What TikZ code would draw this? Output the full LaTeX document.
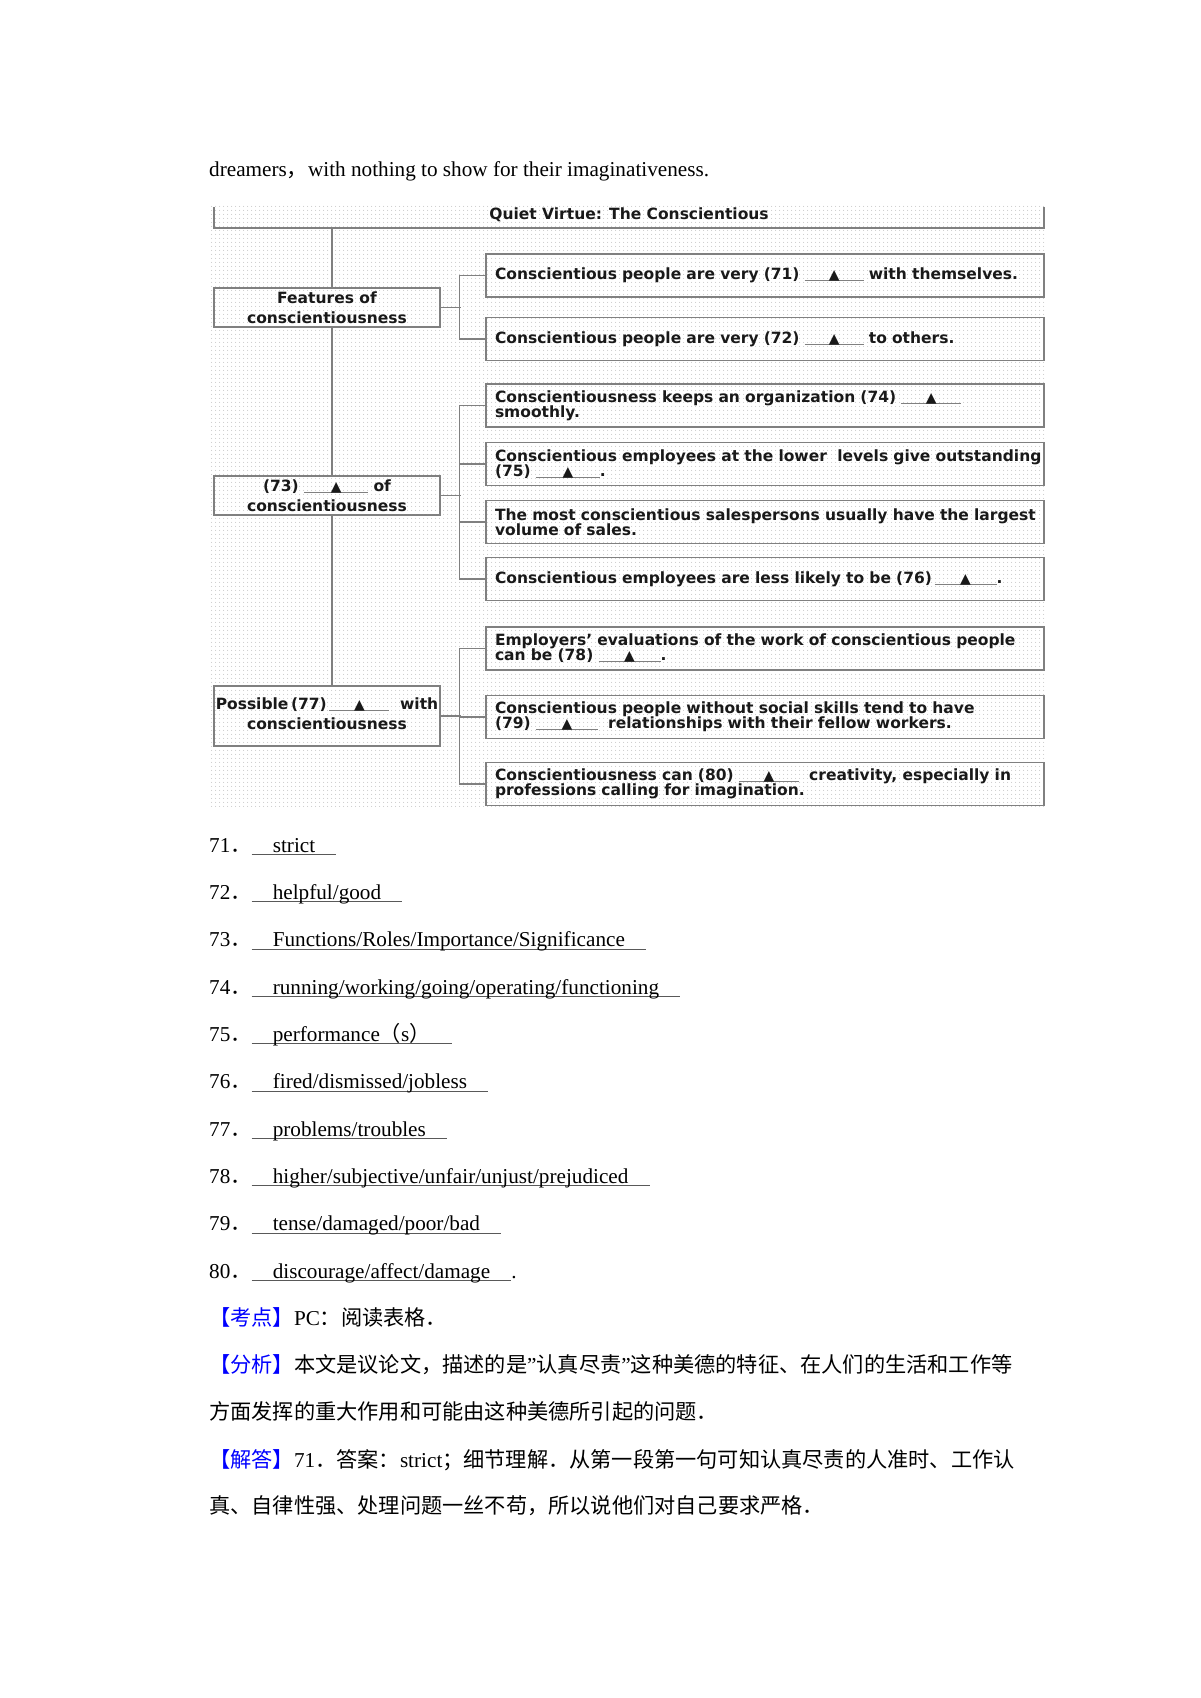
\documentclass[tikz,border=0pt]{standalone}
\usepackage{fontspec}
\usepackage{graphicx}
\setmainfont{Liberation Serif}
\newfontfamily\cjk{Noto Sans CJK SC}
\newfontfamily\dgf{DejaVu Sans}
\usetikzlibrary{patterns.meta}
\newsavebox\ulbox
\newcommand\ul[1]{\sbox\ulbox{\hspace*{1em}#1\hspace*{1em}}\rlap{\textcolor{black!65}{\rule[-3pt]{\wd\ulbox}{0.9pt}}}\usebox\ulbox}
\newcommand\blank[1]{\rlap{\textcolor{black!50}{\rule[-1.5pt]{#1pt}{1.2pt}}}\makebox[#1pt]{\scalebox{0.9}{▲}}}
\newcommand\rl[1]{\mbox{#1}}
\newcommand\dsmall{\dgf\bfseries\fontsize{15.5}{14.8}\selectfont\setlength{\lineskiplimit}{-20pt}}
\newcommand\dwide{\dgf\bfseries\fontsize{15.5}{19.5}\selectfont\setlength{\lineskiplimit}{-20pt}}
\begin{document}
\begin{tikzpicture}[x=1pt,y=-1pt,
  body/.style={anchor=base west, inner sep=0pt, font=\fontsize{21.2}{25}\selectfont},
  dtext/.style={font=\dsmall, text=black!90},
  rbox/.style={dtext, draw=black!50, line width=1.5pt, minimum width=558pt, minimum height=43pt, text width=540pt, inner xsep=9pt, inner ysep=0pt, align=left},
  lbox/.style={dtext, font=\dwide, draw=black!50, line width=1.5pt, minimum width=226pt, minimum height=39pt, inner xsep=2pt, inner ysep=0pt, align=center},
  conn/.style={draw=black!50, line width=1.5pt}]
\useasboundingbox (0,0) rectangle (1200,1698);
\fill[white] (0,0) rectangle (1200,1698);
% dotted background of the diagram
\fill[pattern={Dots[distance=4pt,radius=0.6pt]}, pattern color=black!25] (211,204) rectangle (1046,808);

% title
\node[dtext, minimum width=830pt, minimum height=26pt, inner sep=0pt] (title) at (629,215) {Quiet Virtue: The Conscientious};
\draw[conn] (title.south west) ++(0,-21) -- (title.south west) -- (title.south east) -- ++(0,-21);

% left boxes
\node[lbox] (feat) at (327,307.5) {Features of\\conscientiousness};
\node[lbox] (func) at (327,495.5) {(73) \blank{64} of\\conscientiousness};
\node[lbox, minimum height=60pt, text depth=5pt] (prob) at (327,716) {Possible\,(77)\,\blank{60}\ \ with\\conscientiousness};

% right boxes
\node[rbox] (b71) at (765,275.5) {\rl{Conscientious people are very (71) \blank{59} with themselves.}};
\node[rbox] (b72) at (765,339) {\rl{Conscientious people are very (72) \blank{59} to others.}};
\node[rbox] (b74) at (765,405.5) {\rl{Conscientiousness keeps an organization (74) \blank{60}}\\\rl{smoothly.}};
\node[rbox] (b75) at (765,464) {\rl{Conscientious employees at the lower\ \ levels give outstanding}\\\rl{(75) \blank{64}.}};
\node[rbox] (b7m) at (765,522) {\rl{The most conscientious salespersons usually have the largest}\\\rl{volume of sales.}};
\node[rbox] (b76) at (765,579) {\rl{Conscientious employees are less likely to be (76)\,\blank{62}.}};
\node[rbox] (b78) at (765,648.5) {\rl{Employers’ evaluations of the work of conscientious people}\\\rl{can be (78) \blank{62}.}};
\node[rbox] (b79) at (765,717) {\rl{Conscientious people without social skills tend to have}\\\rl{(79) \blank{62}\ \ relationships with their fellow workers.}};
\node[rbox] (b80) at (765,784) {\rl{Conscientiousness can (80) \blank{60}\ \ creativity, especially in}\\\rl{professions calling for imagination.}};

% trunk
\coordinate (tk) at (332,0);
\draw[conn] (title.south -| tk) -- (feat.north -| tk);
\draw[conn] (feat.south -| tk) -- (func.north -| tk);
\draw[conn] (func.south -| tk) -- (prob.north -| tk);

% brackets
\draw[conn] (feat.east) -- ++(20,0);
\draw[conn] (b71.west) -- ++(-26,0) |- (b72.west);
\draw[conn] (func.east) -- ++(20,0);
\draw[conn] (b74.west) -- ++(-26,0) |- (b76.west);
\draw[conn] (b75.west) -- ++(-26,0);
\draw[conn] (b7m.west) -- ++(-26,0);
\draw[conn] (prob.east) -- ++(20,0);
\draw[conn] (b78.west) -- ++(-26,0) |- (b80.west);
\draw[conn] (b79.west) -- ++(-26,0);

% body text
\node[body] (t0) at (209,176) {dreamers{\cjk ，}with nothing to show for their imaginativeness.};
\node[body] (a71) at (209,852) {71{\cjk ．}\ul{strict}};
\node[body] (a72) at (209,899.3) {72{\cjk ．}\ul{helpful/good}};
\node[body] (a73) at (209,946.7) {73{\cjk ．}\ul{Functions/Roles/Importance/Significance}};
\node[body] (a74) at (209,994) {74{\cjk ．}\ul{running/working/going/operating/functioning}};
\node[body] (a75) at (209,1041) {75{\cjk ．}\ul{performance{\cjk （}s{\cjk ）}}};
\node[body] (a76) at (209,1088.7) {76{\cjk ．}\ul{fired/dismissed/jobless}};
\node[body] (a77) at (209,1136) {77{\cjk ．}\ul{problems/troubles}};
\node[body] (a78) at (209,1183) {78{\cjk ．}\ul{higher/subjective/unfair/unjust/prejudiced}};
\node[body] (a79) at (209,1230.6) {79{\cjk ．}\ul{tense/damaged/poor/bad}};
\node[body] (a80) at (209,1278) {80{\cjk ．}\ul{discourage/affect/damage}.};

\node[body] (k1) at (209,1325) {{\cjk\color{blue}【考点】}PC{\cjk ：阅读表格．}};
\node[body] (k2) at (209,1372) {{\cjk\color{blue}【分析】}{\cjk 本文是议论文，描述的是}"{\cjk 认真尽责}"{\cjk 这种美德的特征、在人们的生活和工作等}};
\node[body] (k3) at (209,1419) {{\cjk 方面发挥的重大作用和可能由这种美德所引起的问题．}};
\node[body] (k4) at (209,1467) {{\cjk\color{blue}【解答】}71{\cjk ．答案：}strict{\cjk ；细节理解．从第一段第一句可知认真尽责的人准时、工作认}};
\node[body] (k5) at (209,1513) {{\cjk 真、自律性强、处理问题一丝不苟，所以说他们对自己要求严格．}};
\end{tikzpicture}
\end{document}
